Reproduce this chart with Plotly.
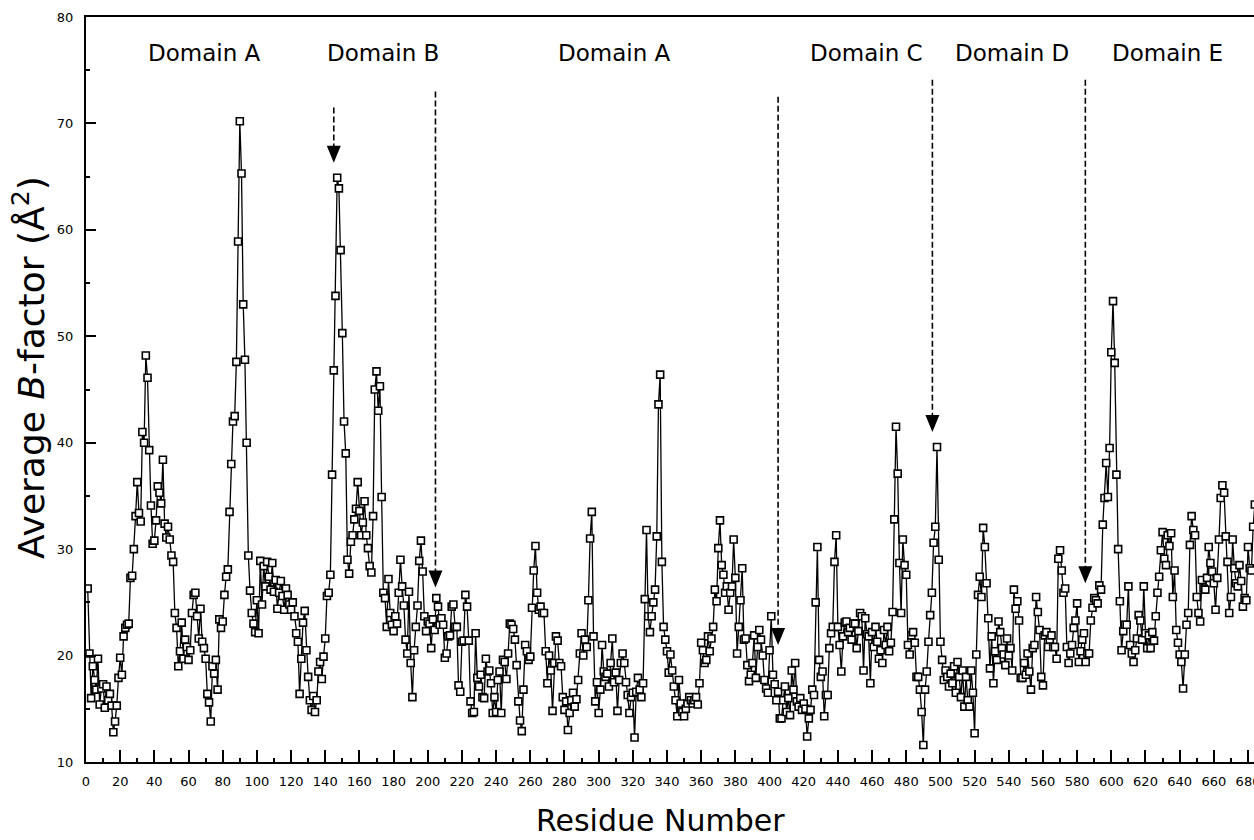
import plotly.graph_objects as go

# ---- data ----
bfactor = [
    26.3, 20.2, 16.0, 19.0, 17.7, 16.8, 19.7, 15.4, 16.9, 17.3,
    15.1, 17.1, 15.8, 16.4, 15.3, 12.8, 13.8, 15.3, 17.9, 19.8,
    18.2, 21.8, 22.6, 22.9, 23.0, 27.3, 27.5, 30.0, 33.1, 36.3,
    33.4, 32.6, 41.0, 40.0, 48.2, 46.1, 39.3, 34.1, 30.5, 30.8,
    32.7, 35.9, 35.3, 34.3, 38.4, 32.4, 31.1, 32.1, 30.9, 29.4,
    28.8, 24.0, 22.6, 19.0, 20.4, 23.1, 19.7, 21.5, 20.8, 19.6,
    20.5, 24.0, 25.7, 25.9, 23.7, 21.6, 24.4, 21.3, 20.7, 19.7,
    16.4, 15.6, 13.8, 19.0, 18.3, 19.6, 16.8, 23.4, 22.6, 23.2,
    25.7, 27.4, 28.1, 33.5, 38.0, 42.0, 42.5, 47.6, 58.9, 70.2,
    65.3, 53.0, 47.8, 40.0, 29.4, 26.1, 24.0, 23.0, 22.2, 25.2,
    22.1, 28.9, 24.8, 28.4, 26.5, 28.8, 27.4, 26.2, 28.7, 26.0,
    27.1, 24.4, 25.9, 27.0, 25.6, 24.3, 26.3, 25.7, 24.8, 24.3,
    25.0, 23.7, 22.1, 21.3, 16.4, 19.7, 23.1, 24.2, 20.5, 18.0,
    15.8, 14.9, 16.2, 14.7, 15.8, 18.5, 19.4, 17.8, 19.9, 21.6,
    25.6, 25.9, 27.6, 37.0, 46.8, 53.8, 64.9, 63.9, 58.1, 50.3,
    42.0, 39.0, 29.0, 27.7, 30.7, 31.3, 32.8, 33.8, 36.3, 33.6,
    31.3, 32.5, 34.5, 31.3, 30.1, 28.4, 27.8, 33.1, 45.0, 46.7,
    43.0, 45.3, 34.9, 25.9, 25.4, 22.7, 27.2, 24.0, 22.9, 22.3,
    23.7, 23.0, 25.9, 29.0, 26.5, 24.7, 21.5, 20.2, 26.0, 19.3,
    16.1, 20.5, 22.7, 24.7, 28.9, 30.8, 27.9, 23.7, 22.3, 23.2,
    23.0, 20.7, 23.4, 22.4, 25.4, 24.6, 22.9, 23.5, 22.9, 19.8,
    20.2, 21.8, 21.9, 24.6, 24.8, 22.7, 22.7, 17.2, 16.6, 21.3,
    21.4, 25.7, 24.6, 21.4, 15.7, 14.6, 14.7, 22.1, 17.9, 17.1,
    18.2, 16.1, 16.0, 19.7, 18.5, 18.6, 17.4, 14.6, 16.1, 14.7,
    17.7, 18.5, 14.6, 19.6, 19.4, 17.8, 20.2, 23.0, 22.9, 22.5,
    21.5, 19.1, 15.7, 13.9, 12.9, 16.8, 21.0, 20.4, 19.6, 19.9,
    24.5, 28.0, 30.3, 25.9, 24.3, 24.6, 24.0, 24.0, 20.4, 17.4,
    20.0, 18.6, 14.8, 19.3, 21.8, 21.4, 19.3, 19.0, 16.1, 14.9,
    15.7, 13.0, 14.6, 15.8, 16.5, 15.2, 15.9, 17.7, 20.2, 22.1,
    20.0, 21.5, 20.8, 25.2, 31.0, 33.5, 21.8, 15.7, 17.5, 14.6,
    16.8, 21.0, 18.5, 18.0, 18.3, 17.1, 19.3, 21.6, 17.5, 18.4,
    14.8, 17.7, 19.3, 20.2, 19.3, 17.5, 16.3, 14.6, 16.1, 16.5,
    12.3, 16.6, 17.9, 16.8, 16.1, 17.4, 25.3, 31.8, 23.7, 22.2,
    23.7, 25.0, 26.2, 31.2, 43.6, 46.4, 28.8, 22.7, 21.5, 20.4,
    18.4, 20.1, 18.6, 17.1, 15.8, 14.3, 17.7, 15.5, 14.7, 14.3,
    15.0, 15.5, 16.1, 15.8, 15.5, 15.8, 16.1, 15.4, 17.4, 21.2,
    20.5, 19.3, 19.6, 21.8, 20.4, 21.6, 22.7, 26.2, 25.1, 30.1,
    32.7, 28.5, 27.6, 25.9, 26.5, 24.3, 25.9, 26.5, 30.9, 27.3,
    20.2, 22.7, 25.2, 28.2, 21.5, 21.6, 19.1, 17.6, 18.2, 19.3,
    21.9, 17.9, 20.8, 22.4, 21.5, 20.0, 17.7, 16.9, 16.5, 20.5,
    23.7, 18.2, 17.3, 15.8, 16.6, 14.1, 14.1, 15.8, 17.1, 14.7,
    16.0, 14.4, 18.6, 16.8, 19.3, 15.7, 15.2, 16.0, 14.9, 15.5,
    15.0, 12.4, 14.1, 14.9, 16.8, 16.3, 25.0, 30.2, 19.6, 18.0,
    18.5, 14.3, 16.3, 16.3, 20.7, 22.1, 22.7, 28.8, 31.3, 22.7,
    21.0, 18.5, 21.8, 23.1, 23.2, 22.2, 22.6, 21.5, 23.0, 23.0,
    20.7, 22.3, 24.0, 23.7, 18.6, 23.5, 22.0, 21.8, 17.4, 22.2,
    20.8, 22.7, 21.3, 19.7, 20.5, 19.3, 22.4, 21.0, 22.7, 20.4,
    21.2, 24.1, 32.8, 41.5, 37.1, 28.7, 24.0, 30.9, 28.5, 27.6,
    21.0, 20.1, 21.9, 22.2, 21.2, 18.0, 18.0, 16.8, 14.7, 11.6,
    16.8, 18.5, 21.3, 23.8, 25.9, 30.6, 32.1, 39.6, 29.0, 21.3,
    19.6, 17.7, 18.6, 18.0, 17.1, 18.3, 17.4, 19.0, 16.5, 19.4,
    18.0, 16.1, 18.6, 15.2, 18.0, 15.8, 15.2, 18.6, 16.5, 12.7,
    20.1, 25.7, 27.4, 25.5, 32.0, 30.2, 26.8, 23.5, 18.8, 21.8,
    17.4, 20.4, 19.6, 23.2, 22.2, 20.7, 20.1, 19.1, 21.6, 20.0,
    20.7, 18.6, 26.2, 24.4, 25.1, 23.3, 17.9, 17.9, 19.3, 18.2,
    20.2, 18.5, 16.8, 20.7, 21.0, 25.5, 24.1, 22.4, 18.0, 17.2,
    21.9, 22.2, 20.8, 21.5, 21.9, 20.8, 20.8, 19.7, 29.1, 29.9,
    28.0, 25.9, 26.3, 20.8, 19.3, 20.2, 21.0, 22.6, 23.3, 24.9,
    19.4, 20.4, 21.5, 22.1, 19.4, 20.2, 20.2, 23.3, 24.5, 25.4,
    25.2, 24.9, 26.6, 26.2, 32.3, 34.8, 38.1, 34.9, 39.5, 48.5,
    53.3, 47.5, 37.0, 30.0, 25.1, 20.5, 22.3, 22.9, 22.9, 26.5,
    21.0, 20.2, 19.4, 20.5, 21.6, 23.8, 23.3, 21.5, 26.5, 22.1,
    20.7, 21.9, 20.7, 22.2, 21.4, 23.7, 25.9, 27.4, 29.9, 31.6,
    29.1, 28.5, 31.3, 30.3, 31.5, 25.5, 28.0, 22.4, 21.2, 20.1,
    19.4, 16.9, 20.1, 22.9, 24.0, 30.4, 33.1, 31.8, 31.3, 25.5,
    24.0, 23.2, 27.1, 26.3, 26.2, 27.3, 30.2, 28.7, 27.9, 26.8,
    24.3, 27.3, 30.9, 34.8, 36.0, 35.3, 31.2, 28.8, 24.0, 25.5,
    30.9, 28.2, 26.8, 26.5, 28.5, 27.0, 24.6, 25.4, 25.2, 30.2,
    28.2, 28.0, 32.1, 34.2,
]
residues = list(range(1, len(bfactor) + 1))

domain_names = ["Domain A", "Domain B", "Domain A", "Domain C", "Domain D", "Domain E"]
domain_x = [69.6, 173.8, 309.0, 456.5, 541.9, 633.0]
domain_y = 76.6

arrow_x = [145.0, 204.5, 405.0, 495.3, 584.8]
arrow_top = [71.5, 73.0, 72.5, 74.1, 74.1]
arrow_tip = [66.3, 26.4, 21.0, 41.0, 26.8]

x_tick_vals = list(range(0, 681, 20))
y_tick_vals = list(range(10, 81, 10))

FONT = "DejaVu Sans"

fig = go.Figure()
fig.add_trace(go.Scatter(
    x=residues, y=bfactor, mode="lines+markers",
    line=dict(color="black", width=1.3),
    marker=dict(symbol="square", size=7, color="white",
                line=dict(color="black", width=1.6)),
    showlegend=False, hoverinfo="skip",
))

shapes = []
for ax, top, tip in zip(arrow_x, arrow_top, arrow_tip):
    shapes.append(dict(type="line", xref="x", yref="y", x0=ax, x1=ax,
                       y0=top, y1=tip + 0.8,
                       line=dict(color="black", width=1.6, dash="6px,3px")))
    shapes.append(dict(type="path", xref="x", yref="y",
                       xsizemode="pixel", ysizemode="pixel",
                       xanchor=ax, yanchor=tip,
                       path="M -7,17 L 7,17 L 0,0 Z",
                       fillcolor="black", line=dict(width=0)))

annotations = []
for name, dx in zip(domain_names, domain_x):
    annotations.append(dict(x=dx, y=domain_y, xref="x", yref="y", text=name,
                            showarrow=False, font=dict(family=FONT, size=23, color="black"),
                            xanchor="center", yanchor="middle"))
annotations.append(dict(x=0.492, y=-0.079, xref="paper", yref="paper",
                        text="Residue Number", showarrow=False,
                        font=dict(family=FONT, size=30, color="black"),
                        xanchor="center", yanchor="middle"))
annotations.append(dict(x=-0.049, y=0.53, xref="paper", yref="paper",
                        text="Average <i>B</i>-factor (Å<sup>2</sup>)", showarrow=False,
                        textangle=-90,
                        font=dict(family=FONT, size=36, color="black"),
                        xanchor="center", yanchor="middle"))

fig.update_layout(
    width=1254, height=840,
    margin=dict(l=86, r=0, t=17, b=78, pad=0, autoexpand=False),
    paper_bgcolor="white", plot_bgcolor="white",
    shapes=shapes, annotations=annotations,
    xaxis=dict(range=[0, 683.5], tickmode="array", tickvals=x_tick_vals,
               ticks="inside", ticklen=12, tickwidth=1.5, tickcolor="black",
               showline=True, linecolor="black", linewidth=2, mirror=True,
               showgrid=False, zeroline=False, ticklabelstandoff=6,
               ticklabeloverflow="allow", automargin=False,
               tickfont=dict(family=FONT, size=13, color="black"),
               minor=dict(dtick=10, tick0=0, ticks="inside", ticklen=4,
                          tickwidth=1.5, tickcolor="black", showgrid=False)),
    yaxis=dict(range=[10, 80], tickmode="array", tickvals=y_tick_vals,
               ticks="inside", ticklen=10, tickwidth=1.5, tickcolor="black",
               showline=True, linecolor="black", linewidth=2, mirror=False,
               showgrid=False, zeroline=False, ticklabelstandoff=8,
               automargin=False,
               tickfont=dict(family=FONT, size=13, color="black"),
               minor=dict(dtick=5, tick0=0, ticks="inside", ticklen=4,
                          tickwidth=1.5, tickcolor="black", showgrid=False)),
)

fig.write_html("out.html", config={"displayModeBar": False},
               post_script="document.body.style.margin='0';")
